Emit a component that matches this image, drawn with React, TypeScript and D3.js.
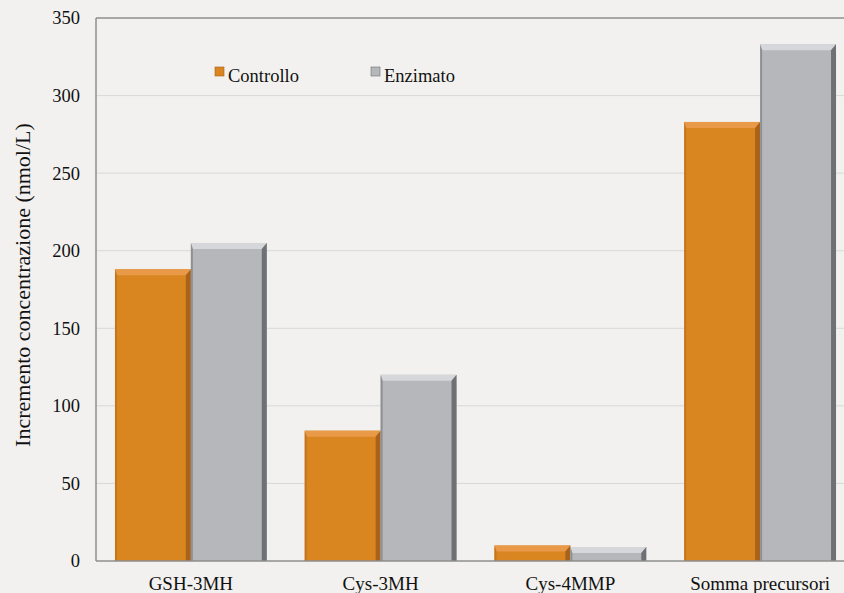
import React from "react";
import * as d3 from "d3";

const categories = ["GSH-3MH", "Cys-3MH", "Cys-4MMP", "Somma precursori"];
const seriesNames = ["Controllo", "Enzimato"];
const controllo = [188, 84, 10, 283];
const enzimato = [205, 120, 9, 333];
const yTicks = [0, 50, 100, 150, 200, 250, 300, 350];

const W = 844;
const H = 593;
const margin = { left: 96, top: 18, right: -11, bottom: 32 };

const palette = [
  { body: "#D98520", top: "#E99A48", right: "#A8621A", left: "#C47520" },
  { body: "#B6B7BB", top: "#D6D7DA", right: "#6E7074", left: "#8E9094" },
];

function BevelBar({ x, y, w, h, c }: { x: number; y: number; w: number; h: number; c: typeof palette[0] }) {
  const b = Math.min(6, h / 2);
  const r = Math.min(5, w / 4);
  const l = Math.min(2, w / 8);
  return (
    <g>
      <rect x={x} y={y} width={w} height={h} fill={c.body} />
      <polygon points={`${x},${y} ${x + w},${y} ${x + w - r},${y + b} ${x + l},${y + b}`} fill={c.top} />
      <polygon points={`${x + w},${y} ${x + w},${y + h} ${x + w - r},${y + h} ${x + w - r},${y + b}`} fill={c.right} />
      <polygon points={`${x},${y} ${x + l},${y + b} ${x + l},${y + h} ${x},${y + h}`} fill={c.left} />
    </g>
  );
}

export default function App() {
  const x0 = d3
    .scaleBand<string>()
    .domain(categories)
    .range([margin.left, W - margin.right])
    .paddingInner(0)
    .paddingOuter(0);
  const x1 = d3
    .scaleBand<string>()
    .domain(seriesNames)
    .range([0, x0.bandwidth()])
    .paddingOuter(0.25)
    .paddingInner(0);
  const y = d3.scaleLinear().domain([0, 350]).range([H - margin.bottom, margin.top]);
  const series = [controllo, enzimato];
  const font = "Liberation Serif, Tinos, Times New Roman, DejaVu Serif, serif";

  return (
    <svg width={W} height={H} style={{ position: "absolute", left: 0, top: 0, background: "#F2F1EF" }}>
      <rect width={W} height={H} fill="#F2F1EF" />
      {yTicks.slice(1).map((t) => (
        <line key={t} x1={margin.left} x2={W} y1={y(t)} y2={y(t)} stroke={t === 350 ? "#8E8E8E" : "#D8D8D8"} strokeWidth={t === 350 ? 1.5 : 1} />
      ))}
      {categories.map((cat, i) =>
        series.map((vals, s) => {
          const bx = (x0(cat) as number) + (x1(seriesNames[s]) as number);
          const by = y(vals[i]);
          return <BevelBar key={cat + s} x={bx} y={by} w={x1.bandwidth()} h={y(0) - by} c={palette[s]} />;
        })
      )}
      <line x1={margin.left} x2={margin.left} y1={margin.top} y2={y(0)} stroke="#8E8E8E" strokeWidth={1.5} />
      <line x1={margin.left} x2={W} y1={y(0)} y2={y(0)} stroke="#8E8E8E" strokeWidth={1.5} />
      <g style={{ fontFamily: font }} fill="#111">
        {yTicks.map((t) => (
          <text key={t} x={80} y={y(t)} dy="0.35em" textAnchor="end" fontSize={18.5}>
            {t}
          </text>
        ))}
        {categories.map((cat) => (
          <text key={cat} x={(x0(cat) as number) + x0.bandwidth() / 2} y={590} textAnchor="middle" fontSize={19}>
            {cat}
          </text>
        ))}
        <text transform={`translate(30,285) rotate(-90)`} textAnchor="middle" fontSize={22}>
          Incremento concentrazione (nmol/L)
        </text>
        {seriesNames.map((name, s) => {
          const lx = [215, 371][s];
          return (
            <g key={name}>
              <rect x={lx} y={67} width={9} height={9} fill={palette[s].body} stroke={palette[s].right} strokeWidth={0.6} />
              <text x={lx + 13} y={82} fontSize={18.5}>
                {name}
              </text>
            </g>
          );
        })}
      </g>
    </svg>
  );
}
